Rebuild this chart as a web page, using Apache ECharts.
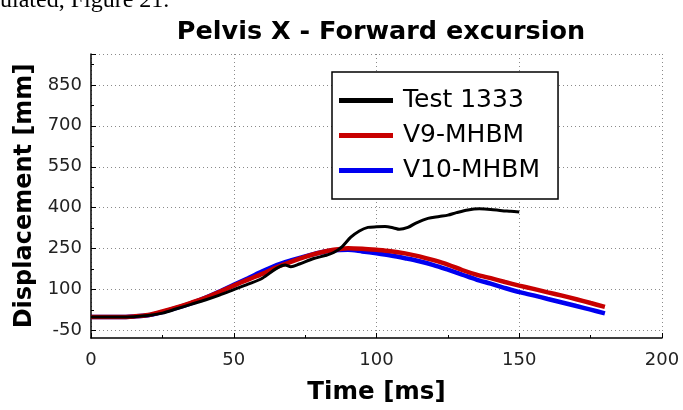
<!DOCTYPE html>
<html><head><meta charset="utf-8">
<script src="https://cdn.jsdelivr.net/npm/echarts@6/dist/echarts.min.js"></script>
<style>html,body{margin:0;padding:0;background:#fff}#c{width:683px;height:410px}</style>
</head><body><div id="c"></div>
<script>
// Test 1333 (black)
const testTime = [0,5,10,15,20,25,30,35,40,45,50,55,60,65,68,70,73,78,82,85,88,91,94,97,100,103,106,108,111,114,118,122,125,128,132,136,140,144,147,150];
const testVal  = [0,0,0,1,5,14,30,46,62,80,100,120,142,178,190,184,194,214,225,236,258,292,315,328,330,331,326,321,328,345,361,368,373,382,392,396,394,389,387,384];
// V9-MHBM (red)
const v9Time = [0,5,10,15,20,25,30,35,40,45,50,55,60,65,70,75,80,85,90,95,100,105,110,115,120,125,130,135,140,145,150,155,160,165,170,175,180];
const v9Val  = [0,0,0,2,7,20,35,52,70,92,115,137,158,182,202,220,235,246,252,250,246,241,233,222,208,192,172,155,142,128,115,103,90,78,65,51,37];
// V10-MHBM (blue)
const v10Time = [0,5,10,15,20,25,30,35,40,45,50,55,60,65,70,75,80,85,90,95,100,105,110,115,120,125,130,135,140,145,150,155,160,165,170,175,180];
const v10Val  = [0,0,0,2,6,18,33,50,70,93,118,142,167,190,207,222,235,244,246,240,233,225,215,204,190,173,155,137,122,106,91,79,66,53,40,27,13];

const seriesNames = ['Test 1333','V9-MHBM','V10-MHBM'];
const yLabelValues = [-50,100,250,400,550,700,850];
const yMinorValues = [25,175,325,475,625,775,925];
const yMin = -77, yMax = 963;
const xMin = 0, xMax = 200, xStep = 50;
const titleText = 'Pelvis X - Forward excursion';
const xName = 'Time [ms]';
const yName = 'Displacement [mm]';
const captionText = 'ulated, Figure 21.';

const zip = (a,b) => a.map((t,i)=>[t,b[i]]);
const chart = echarts.init(document.getElementById('c'), null, {renderer:'canvas'});
const F = 'DejaVu Sans';
const dotted = {show:true, lineStyle:{color:'#8a8a8a', width:1, type:[1,3]}};
chart.setOption({
  animation:false,
  backgroundColor:'#fff',
  title:{text:titleText, left:376, textAlign:'center', top:14,
    textStyle:{fontFamily:F, fontWeight:'bold', fontSize:25.5, color:'#000'}},
  graphic:[{type:'text', left:0, top:-11, style:{text:captionText, font:'24px "Liberation Serif"', fill:'#000'}}],
  legend:{orient:'vertical', left:332, top:72, data:seriesNames,
    backgroundColor:'#fff', borderColor:'#000', borderWidth:1.5,
    padding:[16,18,16,7], itemGap:10, itemWidth:54, itemHeight:5, icon:'rect',
    textStyle:{fontFamily:F, fontSize:25, color:'#000', lineHeight:24, padding:[0,0,0,5]}},
  grid:{left:91, right:21, top:54, bottom:67, containLabel:false},
  xAxis:{type:'value', min:xMin, max:xMax, interval:xStep,
    name:xName, nameLocation:'middle', nameGap:42,
    nameTextStyle:{fontFamily:F, fontWeight:'bold', fontSize:24.5, color:'#000'},
    axisLine:{show:true, onZero:false, lineStyle:{color:'#000', width:1.5}},
    axisTick:{show:true, inside:true, length:5, lineStyle:{color:'#000'}},
    minorTick:{show:true, splitNumber:2, length:3, lineStyle:{color:'#000'}},
    axisLabel:{fontFamily:F, fontSize:18, color:'#222', margin:13},
    splitLine:dotted},
  yAxis:[{type:'value', min:yMin, max:yMax,
    name:yName, nameLocation:'middle', nameGap:50, nameRotate:90,
    nameTextStyle:{fontFamily:F, fontWeight:'bold', fontSize:24, color:'#000'},
    axisLine:{show:true, onZero:false, lineStyle:{color:'#000', width:1.5}},
    axisTick:{show:true, inside:true, length:5, customValues:yLabelValues.concat([yMax]), lineStyle:{color:'#000'}},
    axisLabel:{customValues:yLabelValues, fontFamily:F, fontSize:18, color:'#222', margin:9},
    splitLine:dotted},
   {type:'value', min:yMin, max:yMax, position:'left',
    axisLine:{show:false, onZero:false},
    axisTick:{show:true, inside:true, length:3, customValues:yMinorValues, lineStyle:{color:'#000'}},
    axisLabel:{show:false}, splitLine:{show:false}}],
  series:[
    {name:seriesNames[0], type:'line', data:zip(testTime,testVal), showSymbol:false, smooth:0.3, z:5,
      itemStyle:{color:'#000'}, lineStyle:{color:'#000', width:3}},
    {name:seriesNames[1], type:'line', data:zip(v9Time,v9Val), showSymbol:false, smooth:0.3, z:4,
      itemStyle:{color:'#c80000'}, lineStyle:{color:'#c80000', width:4.5}},
    {name:seriesNames[2], type:'line', data:zip(v10Time,v10Val), showSymbol:false, smooth:0.3, z:3,
      itemStyle:{color:'#0000f0'}, lineStyle:{color:'#0000f0', width:4.5}}
  ]
});
</script></body></html>
